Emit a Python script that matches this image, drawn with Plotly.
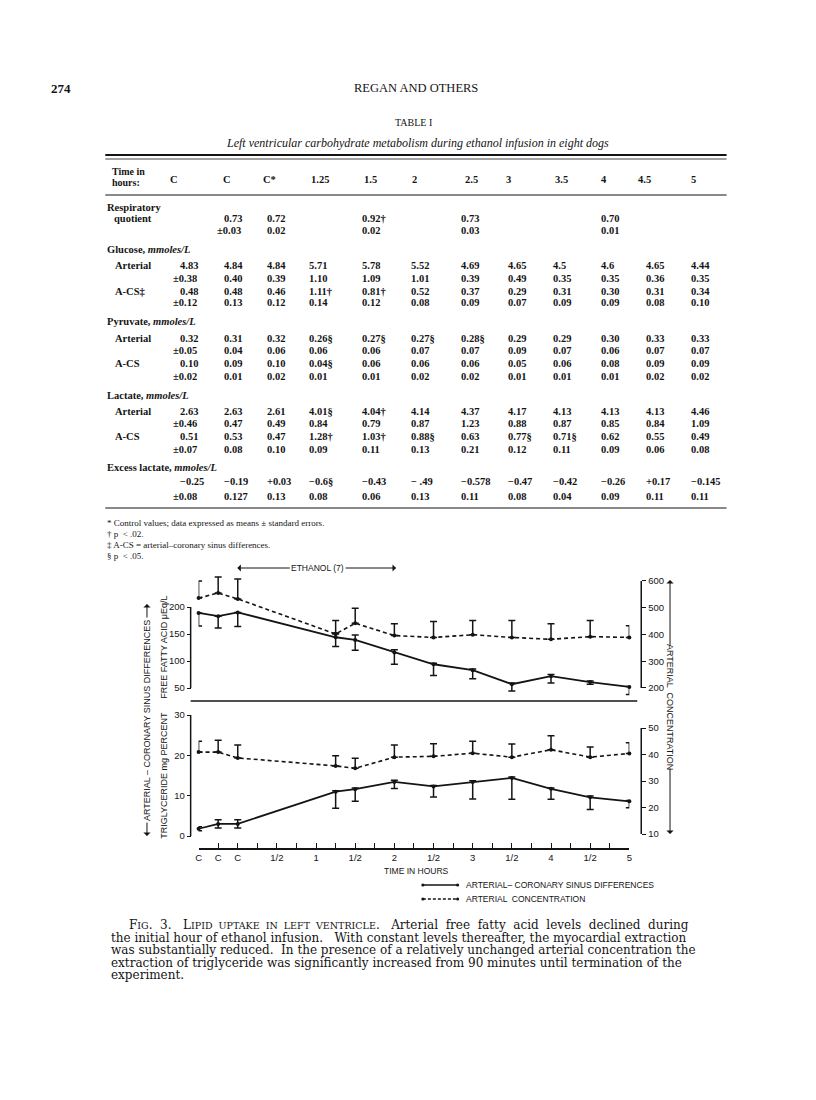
import plotly.graph_objects as go

# ---------------- data ----------------
hours = [-0.5, -0.25, 0, 1.25, 1.5, 2, 2.5, 3, 3.5, 4, 4.5, 5]
x_tickvals = [-0.5 + 0.25 * i for i in range(23)]
x_ticktext = ["C", "C", "C", "", "1/2", "", "1", "", "1/2", "", "2", "", "1/2", "",
              "3", "", "1/2", "", "4", "", "1/2", "", "5"]

ffa_acs = [189, 183, 190, 144, 139, 116, 94, 83, 57, 72, 61, 52]
ffa_acs_up = [0, 0, 0, 8, 9, 5, 2, 2, 2.5, 3, 2, 1]
ffa_acs_dn = [24, 22, 26, 17, 19, 22, 21, 16, 12.5, 12.5, 4, 14]
ffa_art = [536, 555, 533, 402, 442, 396, 389, 399, 389, 382, 392, 389]
ffa_art_up = [64, 60, 74, 50, 56, 44, 60, 53, 63, 58, 60, 44]

tg_acs = [1.8, 3.0, 3.0, 11.0, 11.6, 13.4, 12.3, 13.4, 14.4, 11.7, 9.6, 8.6]
tg_acs_up = [0.5, 1, 1, 0.2, 0.3, 0.4, 0.2, 0.3, 0.2, 0.2, 0.3, 0.2]
tg_acs_dn = [0.5, 1, 1, 4.1, 3.0, 1.6, 2.6, 4.2, 5.3, 2.6, 3.0, 1.6]
tg_art = [40.9, 40.9, 38.7, 35.7, 34.8, 39.0, 39.3, 40.5, 39.0, 41.8, 39.0, 40.4]
tg_art_up = [4.1, 4.5, 4.9, 3.8, 3.8, 4.6, 4.8, 4.5, 5.0, 5.3, 3.8, 4.0]

ffa_left_ticks = [50, 100, 150, 200]
ffa_right_ticks = [200, 300, 400, 500, 600]
tg_left_ticks = [0, 10, 20, 30]
tg_right_ticks = [10, 20, 30, 40, 50]

# table
table_cols = ["C", "C", "C*", "1.25", "1.5", "2", "2.5", "3", "3.5", "4", "4.5", "5"]
resp_q = ["", "0.73", "0.72", "", "0.92†", "", "0.73", "", "", "0.70", "", ""]
resp_q_se = ["", "±0.03", "0.02", "", "0.02", "", "0.03", "", "", "0.01", "", ""]
glu_art = ["4.83", "4.84", "4.84", "5.71", "5.78", "5.52", "4.69", "4.65", "4.5", "4.6", "4.65", "4.44"]
glu_art_se = ["±0.38", "0.40", "0.39", "1.10", "1.09", "1.01", "0.39", "0.49", "0.35", "0.35", "0.36", "0.35"]
glu_acs = ["0.48", "0.48", "0.46", "1.11†", "0.81†", "0.52", "0.37", "0.29", "0.31", "0.30", "0.31", "0.34"]
glu_acs_se = ["±0.12", "0.13", "0.12", "0.14", "0.12", "0.08", "0.09", "0.07", "0.09", "0.09", "0.08", "0.10"]
pyr_art = ["0.32", "0.31", "0.32", "0.26§", "0.27§", "0.27§", "0.28§", "0.29", "0.29", "0.30", "0.33", "0.33"]
pyr_art_se = ["±0.05", "0.04", "0.06", "0.06", "0.06", "0.07", "0.07", "0.09", "0.07", "0.06", "0.07", "0.07"]
pyr_acs = ["0.10", "0.09", "0.10", "0.04§", "0.06", "0.06", "0.06", "0.05", "0.06", "0.08", "0.09", "0.09"]
pyr_acs_se = ["±0.02", "0.01", "0.02", "0.01", "0.01", "0.02", "0.02", "0.01", "0.01", "0.01", "0.02", "0.02"]
lac_art = ["2.63", "2.63", "2.61", "4.01§", "4.04†", "4.14", "4.37", "4.17", "4.13", "4.13", "4.13", "4.46"]
lac_art_se = ["±0.46", "0.47", "0.49", "0.84", "0.79", "0.87", "1.23", "0.88", "0.87", "0.85", "0.84", "1.09"]
lac_acs = ["0.51", "0.53", "0.47", "1.28†", "1.03†", "0.88§", "0.63", "0.77§", "0.71§", "0.62", "0.55", "0.49"]
lac_acs_se = ["±0.07", "0.08", "0.10", "0.09", "0.11", "0.13", "0.21", "0.12", "0.11", "0.09", "0.06", "0.08"]
exc_lac = ["−0.25", "−0.19", "+0.03", "−0.6§", "−0.43", "− .49", "−0.578", "−0.47", "−0.42", "−0.26", "+0.17", "−0.145"]
exc_lac_se = ["±0.08", "0.127", "0.13", "0.08", "0.06", "0.13", "0.11", "0.08", "0.04", "0.09", "0.11", "0.11"]

NB = "\u00a0"
caption_lines = [
    "F<span style='font-size:9.5px'>IG</span>." + NB + " 3." + NB + "  L<span style='font-size:9.5px'>IPID" + NB
    + " UPTAKE" + NB + " IN" + NB + " LEFT" + NB + " VENTRICLE</span>." + NB + "  Arterial" + NB + " free" + NB
    + " fatty" + NB + " acid" + NB + " levels" + NB + " declined" + NB + " during",
    "the initial hour of ethanol infusion.   With constant levels thereafter, the myocardial extraction",
    "was substantially reduced.  In the presence of a relatively unchanged arterial concentration the",
    "extraction of triglyceride was significantly increased from 90 minutes until termination of the",
    "experiment.",
]

# ---------------- helpers ----------------
# the page body has an 8px margin: the figure starts at (8, 8) of the window
OFF = 8
W, H = 800, 1084
def px(x):
    return (x - OFF) / W
def py(y):
    return 1 - (y - OFF) / H

INK = "#141414"
SERIF = "Liberation Serif"
SERIF2 = "DejaVu Serif"
SANS = "Liberation Sans"

annotations = []
shapes = []

def txt(x, y, s, size=10.5, anchor="left", family=SERIF, angle=0, color=INK):
    annotations.append(dict(x=px(x), y=py(y), xref="paper", yref="paper", text=s,
                            showarrow=False, xanchor=anchor, yanchor="middle",
                            font=dict(family=family, size=size, color=color),
                            textangle=angle))

def arrow(hx, hy, tx, ty):
    annotations.append(dict(x=px(hx), y=py(hy), xref="paper", yref="paper",
                            ax=tx - hx, ay=ty - hy, axref="pixel", ayref="pixel",
                            text="", showarrow=True, arrowhead=1, arrowsize=1.2,
                            arrowwidth=1, arrowcolor=INK, standoff=0, startstandoff=0))

def hline(x0, x1, y, w=1.0, color=INK):
    shapes.append(dict(type="line", xref="paper", yref="paper", x0=px(x0), x1=px(x1),
                       y0=py(y), y1=py(y), line=dict(color=color, width=w)))

fig = go.Figure()

# ---------------- chart traces ----------------
DASH = "4px,3px"
line_style = dict(color=INK, width=1.8)
err_style = dict(color=INK, thickness=1.5, width=3.5)
mk = dict(size=4, color=INK)

fig.add_trace(go.Scatter(x=hours, y=ffa_art, mode="lines+markers", xaxis="x", yaxis="y2",
                         line=dict(color=INK, width=1.6, dash=DASH), marker=mk, cliponaxis=False,
                         error_y=dict(type="data", array=ffa_art_up, arrayminus=[0] * len(ffa_art_up),
                                      symmetric=False, **err_style)))
fig.add_trace(go.Scatter(x=hours, y=ffa_acs, mode="lines+markers", xaxis="x", yaxis="y",
                         line=line_style, marker=mk, cliponaxis=False,
                         error_y=dict(type="data", array=ffa_acs_up, arrayminus=ffa_acs_dn,
                                      symmetric=False, **err_style)))
fig.add_trace(go.Scatter(x=hours, y=tg_art, mode="lines+markers", xaxis="x", yaxis="y4",
                         line=dict(color=INK, width=1.6, dash=DASH), marker=mk, cliponaxis=False,
                         error_y=dict(type="data", array=tg_art_up, arrayminus=[0] * len(tg_art_up),
                                      symmetric=False, **err_style)))
fig.add_trace(go.Scatter(x=hours, y=tg_acs, mode="lines+markers", xaxis="x", yaxis="y3",
                         line=line_style, marker=mk, cliponaxis=False,
                         error_y=dict(type="data", array=tg_acs_up, arrayminus=tg_acs_dn,
                                      symmetric=False, **err_style)))

# axis geometry (window pixels)
XL, XR = 197, 631           # x axis extent (C ... 5)
SPL, SPR = 189, 643         # y spines
TOP_D = (575, 700)          # top panel domain (pixel top, bottom)
BOT_D = (705, 845)
XAX_Y = 849

tickfont = dict(family=SANS, size=9.5, color=INK)
common_y = dict(showgrid=False, zeroline=False, showline=False, ticks="outside", ticklen=4,
                tickwidth=1.3, tickcolor=INK, tickfont=tickfont, anchor="free")

fig.update_layout(
    width=W, height=H, margin=dict(l=0, r=0, t=0, b=0),
    paper_bgcolor="white", plot_bgcolor="white", showlegend=False,
    xaxis=dict(domain=[px(XL), px(XR)], range=[-0.5, 5], anchor="free", position=py(XAX_Y),
               tickvals=x_tickvals, ticktext=x_ticktext, ticks="inside", ticklen=5, tickwidth=1.3,
               tickcolor=INK, showline=True, linecolor=INK, linewidth=1.5, showgrid=False,
               zeroline=False, tickfont=dict(family=SANS, size=9.5, color=INK)),
    yaxis=dict(domain=[py(TOP_D[1]), py(TOP_D[0])], range=[27.8, 259.3], position=px(SPL),
               side="left", tickvals=ffa_left_ticks, **common_y),
    yaxis2=dict(overlaying="y", range=[155.1, 622.4], position=px(SPR), side="right",
                tickvals=ffa_right_ticks, **common_y),
    yaxis3=dict(domain=[py(BOT_D[1]), py(BOT_D[0])], range=[-2.23, 32.48], position=px(SPL),
                side="left", tickvals=tg_left_ticks, **common_y),
    yaxis4=dict(overlaying="y3", range=[5.85, 58.68], position=px(SPR), side="right",
                tickvals=tg_right_ticks, **common_y),
)

# spines
for yref, lo, hi, xx in [("y", 50, 200, SPL), ("y2", 200, 600, SPR), ("y3", 0, 30, SPL), ("y4", 10, 50, SPR)]:
    shapes.append(dict(type="line", xref="paper", yref=yref, x0=px(xx), x1=px(xx), y0=lo, y1=hi,
                       line=dict(color=INK, width=1.5)))
# separator between panels
hline(SPL, 639, 701, w=1.5)

# ---------------- chart texts ----------------
txt(317, 568, "ETHANOL (7)", size=8.5, anchor="center", family=SANS)
arrow(236, 568, 290, 568)
arrow(396, 568, 344, 568)
txt(145, 720, "ARTERIAL – CORONARY SINUS DIFFERENCES", size=9, anchor="center", family=SANS, angle=-90)
arrow(145, 836, 145, 821)
arrow(145, 604, 145, 619)
txt(162, 647, "FREE FATTY ACID μEq/L", size=9, anchor="center", family=SANS, angle=-90)
txt(162, 775, "TRIGLYCERIDE mg PERCENT", size=9, anchor="center", family=SANS, angle=-90)
txt(672, 707, "ARTERIAL  CONCENTRATION", size=9, anchor="center", family=SANS, angle=90)
arrow(672, 580, 672, 647)
arrow(672, 834, 672, 767)

txt(417, 871, "TIME IN HOURS", size=8.5, anchor="center", family=SANS)
for yy, dash in [(885, "solid"), (899, "3px,2px")]:
    shapes.append(dict(type="line", xref="paper", yref="paper", x0=px(423), x1=px(458), y0=py(yy), y1=py(yy),
                       line=dict(color=INK, width=1.4, dash=dash)))
    for xx in (423, 458):
        shapes.append(dict(type="circle", xref="paper", yref="paper", x0=px(xx - 1.6), x1=px(xx + 1.6),
                           y0=py(yy + 1.6), y1=py(yy - 1.6), fillcolor=INK, line=dict(width=0)))
txt(464, 885, "ARTERIAL– CORONARY SINUS DIFFERENCES", size=8.5, family=SANS)
txt(464, 899, "ARTERIAL  CONCENTRATION", size=8.5, family=SANS)

# ---------------- page header & table ----------------
TR = 729   # table right edge
txt(46, 88, "<b>274</b>", size=13)
txt(416, 88, "REGAN AND OTHERS", size=12.5, anchor="center")
txt(414, 122, "TABLE I", size=10, anchor="center")
txt(418, 143, "<i>Left ventricular carbohydrate metabolism during ethanol infusion in eight dogs</i>",
    size=12, anchor="center")
hline(103, TR, 155, w=2.2)
hline(103, TR, 159, w=0.8)
txt(108, 171, "<b>Time in</b>", size=10)
txt(108, 183, "<b>hours:</b>", size=10)
head_x = [172, 226, 268, 319, 370, 415, 472, 509, 563, 605, 646, 696]
for hx, lab in zip(head_x, table_cols):
    txt(hx, 179, "<b>" + lab + "</b>", size=10.5, anchor="center")
hline(103, TR, 195, w=1.2)

col_left = [176, 221, 264, 306, 360, 409, 459, 507, 552, 600, 646, 691]

def row(y, vals, label=None, label_x=111):
    if label:
        txt(label_x, y, "<b>" + label + "</b>", size=10.5)
    for lx, v in zip(col_left, vals):
        if not v:
            continue
        x = lx - 7 if v.startswith("±") else lx
        txt(x, y, "<b>" + v + "</b>", size=10.5)

txt(103, 207, "<b>Respiratory</b>", size=10.5)
row(218, resp_q, "quotient", 110)
row(231, resp_q_se)
txt(103, 249, "<b>Glucose, <i>mmoles/L</i></b>", size=10.5)
row(265, glu_art, "Arterial")
row(278, glu_art_se)
row(291, glu_acs, "A-CS‡")
row(303, glu_acs_se)
txt(103, 322, "<b>Pyruvate, <i>mmoles/L</i></b>", size=10.5)
row(338, pyr_art, "Arterial")
row(350, pyr_art_se)
row(363, pyr_acs, "A-CS")
row(376, pyr_acs_se)
txt(103, 395, "<b>Lactate, <i>mmoles/L</i></b>", size=10.5)
row(411, lac_art, "Arterial")
row(423, lac_art_se)
row(436, lac_acs, "A-CS")
row(449, lac_acs_se)
txt(103, 467, "<b>Excess lactate, <i>mmoles/L</i></b>", size=10.5)
row(482, exc_lac)
row(496, exc_lac_se)
hline(103, TR, 508, w=1.2)

txt(103, 523, "* Control values; data expressed as means ± standard errors.", size=9)
txt(103, 534, "† p  < .02.", size=9)
txt(103, 545, "‡ A-CS = arterial–coronary sinus differences.", size=9)
txt(103, 556, "§ p  < .05.", size=9)

# ---------------- caption ----------------
cap_y = [925, 937.5, 950, 962.5, 975]
for i, (cy, line) in enumerate(zip(cap_y, caption_lines)):
    txt(125 if i == 0 else 107, cy, line, size=12, family=SERIF2)

fig.update_layout(annotations=annotations, shapes=shapes)
fig.write_html("out.html")
